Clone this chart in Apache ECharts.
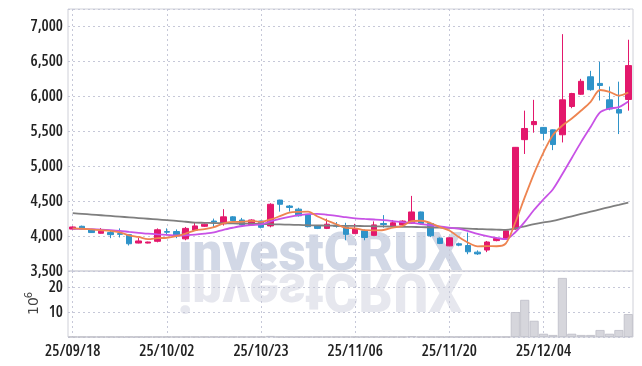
<!DOCTYPE html>
<html><head><meta charset="utf-8">
<script src="https://cdn.jsdelivr.net/npm/echarts@6/dist/echarts.min.js"></script>
<style>html,body{margin:0;padding:0;background:#fff}#c{width:642px;height:366px}</style>
</head><body><div id="c"></div>
<script>
const dates = ['25/09/18','25/09/19','25/09/22','25/09/23','25/09/24','25/09/25','25/09/26','25/09/29','25/09/30','25/10/01',
'25/10/02','25/10/10','25/10/13','25/10/14','25/10/15','25/10/16','25/10/17','25/10/20','25/10/21','25/10/22',
'25/10/23','25/10/24','25/10/27','25/10/28','25/10/29','25/10/30','25/10/31','25/11/03','25/11/04','25/11/05',
'25/11/06','25/11/07','25/11/10','25/11/11','25/11/12','25/11/13','25/11/14','25/11/17','25/11/18','25/11/19',
'25/11/20','25/11/21','25/11/24','25/11/25','25/11/26','25/11/27','25/11/28','25/12/01','25/12/02','25/12/03',
'25/12/04','25/12/05','25/12/08','25/12/09','25/12/10','25/12/11','25/12/12','25/12/15','25/12/16','25/12/17'];
const opens = [4100,4140,4095,4040,4050,4035,4020,3900,3900,3925,
4065,4065,3960,4085,4140,4215,4175,4275,4230,4160,
4215,4145,4515,4430,4385,4300,4145,4110,4155,4130,
4035,4075,4010,4180,4135,4160,4185,4345,4180,3970,
3860,3890,3865,3770,3800,3935,3955,4100,5380,5595,
5555,5520,5450,5855,6030,6280,6185,5950,5810,5955];
const closes = [4130,4100,4050,4070,4020,4025,3890,3930,3915,4090,
4055,4010,4110,4145,4170,4200,4275,4220,4160,4230,
4125,4455,4455,4410,4290,4135,4110,4170,4140,4025,
4105,3980,4160,4165,4190,4215,4345,4180,4005,3895,
3975,3870,3775,3745,3915,3965,4075,5270,5540,5640,
5470,5310,5950,6040,6215,6095,6155,5820,5760,6440];
const lows = [4095,4095,4045,4035,3970,3980,3865,3895,3895,3910,
4010,3970,3940,4075,4130,4130,4150,4210,4150,4145,
4110,4125,4350,4350,4280,4125,4100,4100,4120,3940,
4030,3940,4005,4120,4130,4150,4175,4175,3985,3885,
3855,3855,3740,3730,3770,3925,3950,4090,5175,5480,
5375,5230,5340,5830,6020,6080,5940,5800,5460,5795];
const highs = [4140,4150,4100,4115,4075,4110,4025,3975,3920,4110,
4110,4095,4130,4200,4180,4250,4385,4285,4260,4240,
4220,4470,4520,4445,4405,4310,4150,4250,4200,4190,
4175,4095,4210,4300,4230,4225,4575,4350,4185,3980,
3980,3905,4050,3795,3930,3975,4080,5275,5795,5950,
5560,5525,6890,6050,6250,6365,6495,6140,6210,6810];
const ma5 = [4110,4105,4095,4085,4074,4053,4011,3987,3956,3970,
3976,4000,4036,4082,4098,4127,4180,4202,4205,4217,
4202,4238,4285,4335,4347,4349,4280,4223,4169,4116,
4110,4084,4082,4087,4120,4142,4215,4219,4187,4128,
4080,3985,3904,3852,3856,3854,3895,4194,4553,4898,
5199,5446,5582,5682,5797,5922,6091,6065,6009,6054];
const ma10 = [4105,4102,4098,4092,4084,4074,4060,4047,4034,4024,
4016,4008,4012,4020,4034,4052,4090,4119,4144,4158,
4168,4209,4246,4276,4300,4315,4318,4305,4290,4270,
4254,4245,4237,4228,4215,4200,4188,4172,4155,4138,
4120,4105,4070,4030,4000,3975,3955,4055,4203,4377,
4527,4671,4888,5118,5348,5561,5769,5824,5846,5926];
const maLong = [4327,4318,4308,4298,4288,4278,4268,4258,4248,4238,
4228,4218,4205,4193,4190,4186,4184,4181,4179,4177,
4174,4170,4167,4163,4159,4155,4152,4150,4148,4146,
4145,4143,4140,4138,4136,4133,4131,4128,4124,4120,
4117,4112,4107,4101,4096,4092,4088,4110,4140,4170,
4195,4217,4250,4283,4316,4349,4382,4415,4447,4480];
const volumes = [0.05,0.05,0.05,0.05,0.05,0.05,0.05,0.05,0.05,0.05,
0.05,0.05,0.05,0.05,0.05,0.05,0.05,0.05,0.05,0.05,
0.05,0.4,0.05,0.05,0.05,0.05,0.05,0.05,0.05,0.05,
0.05,0.05,0.05,0.05,0.05,0.05,0.3,0.05,0.05,0.05,
0.05,0.05,0.05,0.05,0.05,0.05,0.05,10.0,14.9,6.5,
1.3,0.8,23.7,1.3,0.8,0.8,2.8,1.3,2.8,9.2];
const priceTicks = {min:3500, max:7250, interval:500};
const volTicks = {min:0, max:26.5, interval:10};

const FONT = '"Open Sans", sans-serif';
const LBL = {fontFamily: FONT, fontStyle: 'condensed', fontWeight: 600, fontSize: 16, color: '#222'};
const UP = '#e3186c', DOWN = '#2f93c9';
const GRIDC = '#c6c8d8';
const fmt = v => String(v).replace(/\B(?=(\d{3})+(?!\d))/g, ',');
const ohlc = dates.map((d, i) => [opens[i], closes[i], lows[i], highs[i]]);

const chart = echarts.init(document.getElementById('c'), null, {renderer: 'canvas'});
chart.setOption({
  animation: false,
  backgroundColor: '#fff',
  grid: [
    {left: 68, right: 9, top: 9, height: 262, show: true, borderColor: '#cfd0d8', borderWidth: 1},
    {left: 68, right: 9, top: 271, height: 66, show: true, borderColor: '#cfd0d8', borderWidth: 1}
  ],
  xAxis: [
    {type: 'category', data: dates, gridIndex: 0, boundaryGap: true,
     axisLine: {show: false}, axisTick: {show: false}, axisLabel: {show: false},
     splitLine: {show: true, interval: 9, alignWithLabel: true, lineStyle: {color: GRIDC, type: [2, 3], width: 1}}},
    {type: 'category', data: dates, gridIndex: 1, boundaryGap: true,
     axisLine: {show: false}, axisTick: {show: false},
     axisLabel: Object.assign({show: true, interval: 9, margin: 6}, LBL),
     splitLine: {show: true, interval: 9, alignWithLabel: true, lineStyle: {color: GRIDC, type: [2, 3], width: 1}}}
  ],
  yAxis: [
    {type: 'value', gridIndex: 0, min: priceTicks.min, max: priceTicks.max, interval: priceTicks.interval,
     axisLine: {show: false}, axisTick: {show: false},
     axisLabel: Object.assign({showMaxLabel: false, formatter: v => fmt(v), margin: 5}, LBL),
     splitLine: {show: true, lineStyle: {color: GRIDC, type: [2, 3], width: 1}}},
    {type: 'value', gridIndex: 1, min: volTicks.min, max: volTicks.max, interval: volTicks.interval,
     axisLine: {show: false}, axisTick: {show: false},
     axisLabel: Object.assign({showMinLabel: false, showMaxLabel: false, margin: 5}, LBL),
     splitLine: {show: true, lineStyle: {color: GRIDC, type: [2, 3], width: 1}}}
  ],
  graphic: [
    {type: 'text', x: 178, y: 230, z: -10,
     style: {text: 'investCRUX', font: '900 53px Roboto, sans-serif', fill: '#d2d8e6',
             align: 'left', verticalAlign: 'top'}},
    {type: 'text', x: 178, y: 314, z: -10, scaleY: -1,
     style: {text: 'investCRUX', font: '900 53px Roboto, sans-serif', fill: '#e6e7ee',
             align: 'left', verticalAlign: 'top'}},
    {type: 'group', x: 34, y: 306, rotation: Math.PI / 2, children: [
      {type: 'text', x: 0, y: 0, style: {text: '10', font: '14px "DejaVu Sans", sans-serif', fill: '#444', align: 'center', verticalAlign: 'middle'}},
      {type: 'text', x: 11, y: -5, style: {text: '6', font: '10px "DejaVu Sans", sans-serif', fill: '#444', align: 'center', verticalAlign: 'middle'}}
    ]}
  ],
  series: [
    {type: 'candlestick', name: 'price', xAxisIndex: 0, yAxisIndex: 0, data: ohlc, barWidth: 6,
     itemStyle: {color: UP, color0: DOWN, borderColor: UP, borderColor0: DOWN, borderWidth: 1}},
    {type: 'line', name: 'MA long', xAxisIndex: 0, yAxisIndex: 0, data: maLong, showSymbol: false, smooth: 0.3,
     lineStyle: {color: '#7f7f7f', width: 1.8}, z: 3},
    {type: 'line', name: 'MA10', xAxisIndex: 0, yAxisIndex: 0, data: ma10, showSymbol: false, smooth: 0.3,
     lineStyle: {color: '#c852e6', width: 1.8}, z: 3},
    {type: 'line', name: 'MA5', xAxisIndex: 0, yAxisIndex: 0, data: ma5, showSymbol: false, smooth: 0.3,
     lineStyle: {color: '#ee8450', width: 1.8}, z: 3},
    {type: 'bar', name: 'volume', xAxisIndex: 1, yAxisIndex: 1, data: volumes, barCategoryGap: '4%',
     itemStyle: {color: '#d6d6dc', borderColor: '#bcbcc6', borderWidth: 0.8}}
  ]
});
</script>
</body></html>
